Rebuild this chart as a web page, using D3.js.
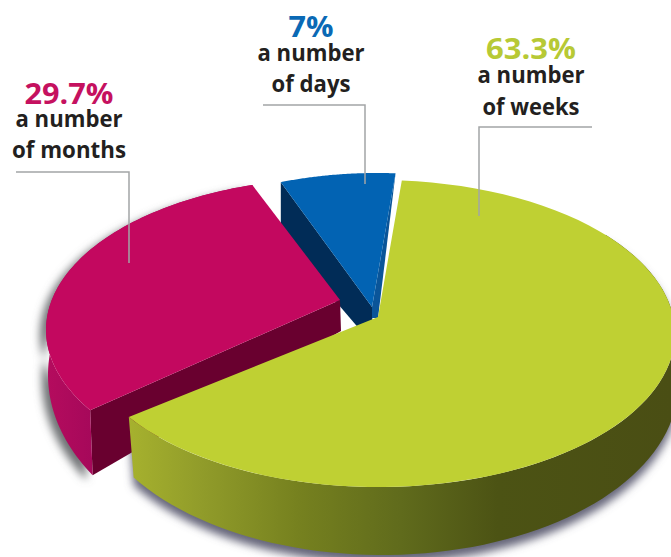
<!DOCTYPE html>
<html>
<head>
<meta charset="utf-8">
<script src="https://cdn.jsdelivr.net/npm/d3@7"></script>
<style>
    html, body { margin: 0; padding: 0; background: #fff; }
    svg { display: block; }
    text { font-family: "Open Sans", "Noto Sans", sans-serif; text-anchor: middle; }
</style>
</head>
<body>
<svg id="chart" width="671" height="557"></svg>
<script>
const categories = ['weeks', 'months', 'days'];
const shares = [63.3, 29.7, 7];
const percentLabels = ['63.3%', '29.7%', '7%'];
const firstLines = ['a number', 'a number', 'a number'];
const secondLines = ['of weeks', 'of months', 'of days'];

const deg = Math.PI / 180;

// each slice is exploded and seen in perspective, so it has its own ellipses
// twist/stretch nudge the true pie angles to the foreshortened ones in the picture
const layout = {
    weeks: {
        twist: 0.6,
        stretch: 1.02,
        top: { cx: 378, cy: 333.5, rx: 297, ry: 153.5 },
        floor: { cx: 382, cy: 385, rx: 296, ry: 170 },
        apex: [378, 317],
        fill: '#bfd033',
        text: { color: '#b7c935', x: 531, y: [59, 83, 115], w: [90, 107, 97] },
        leader: [[592, 127], [479, 127], [479, 216]]
    },
    months: {
        twist: 6.3,
        stretch: 0.977,
        top: { cx: 340, cy: 330, rx: 294, ry: 152 },
        floor: { cx: 345, cy: 375, rx: 297, ry: 190 },
        apex: [340, 300],
        apexFloor: [341, 331],
        fill: '#c3085f',
        text: { color: '#c5115f', x: 69, y: [104, 127, 158], w: [89, 107, 114] },
        leader: [[16, 172], [129, 172], [129, 263]]
    },
    days: {
        twist: 0,
        stretch: 1,
        top: { cx: 377, cy: 308, rx: 266, ry: 135 },
        floor: { cx: 377, cy: 363, rx: 266, ry: 135 },
        apex: [372, 307],
        apexFloor: [373, 345],
        fill: '#0263b3',
        text: { color: '#0a69b5', x: 311, y: [37, 61, 92], w: [45, 107, 79] },
        leader: [[263, 105], [365, 105], [365, 184]]
    }
};

const svg = d3.select('#chart');
const defs = svg.append('defs');

const blur = defs.append('filter').attr('id', 'soft')
    .attr('filterUnits', 'userSpaceOnUse')
    .attr('x', 0).attr('y', 0).attr('width', 671).attr('height', 557);
blur.append('feGaussianBlur').attr('in', 'SourceGraphic').attr('stdDeviation', 4);

const addGradient = (id, x1, x2, stops) => {
    const g = defs.append('linearGradient').attr('id', id)
        .attr('gradientUnits', 'userSpaceOnUse')
        .attr('x1', x1).attr('x2', x2).attr('y1', 0).attr('y2', 0);
    stops.forEach(s => g.append('stop').attr('offset', s[0]).attr('stop-color', s[1]));
};
addGradient('weeksWall', 130, 671, [[0, '#a6b12e'], [0.13, '#919c2a'], [0.31, '#76811f'], [0.5, '#606b1c'], [0.68, '#4c5314'], [1, '#4a4e14']]);
addGradient('monthsWall', 45, 95, [[0, '#b50c5e'], [1, '#a5085a']]);

const pie = d3.pie().sort(null).startAngle(4 * deg).endAngle(364 * deg);
const slices = pie(shares);

const rimPoint = (e, a) => [e.cx + e.rx * Math.sin(a), e.cy - e.ry * Math.cos(a)];

const rim = (e, a0, a1) => {
    const t = d3.scaleLinear().domain([0, 80]).range([a0, a1]);
    return d3.range(81).map(i => rimPoint(e, t(i)));
};

const line = d3.line();
const closed = pts => line(pts) + 'Z';

const angles = i => {
    const l = layout[categories[i]];
    const a0 = slices[i].startAngle + l.twist * deg;
    return [a0, a0 + (slices[i].endAngle - slices[i].startAngle) * l.stretch];
};

// outer wall = top rim going one way, floor rim coming back
const outerWall = (l, a0, a1) => closed(rim(l.top, a0, a1).concat(rim(l.floor, a1, a0)));
const face = (l, a0, a1) => closed([l.apex].concat(rim(l.top, a0, a1)));

const shadows = svg.append('g');
const marks = svg.append('g');

// days goes first, months and weeks cover its lower parts
const drawDays = () => {
    const l = layout.days;
    const [a0, a1] = angles(2);
    marks.append('path')
        .attr('d', closed([rimPoint(l.top, a0), l.apex, l.apexFloor, rimPoint(l.floor, a0)]))
        .attr('fill', '#012c57');
    marks.append('path')
        .attr('d', closed([rimPoint(l.top, a1), l.apex, [372, 318], [378, 318]]))
        .attr('fill', '#0a5599');
    marks.append('path').attr('d', face(l, a0, a1)).attr('fill', l.fill);
};

const drawMonths = () => {
    const l = layout.months;
    const [a0, a1] = angles(1);
    shadows.append('path')
        .attr('d', outerWall(l, a0, a1))
        .attr('transform', 'translate(-6,5)')
        .attr('filter', 'url(#soft)')
        .attr('fill', '#6f7275');
    marks.append('path')
        .attr('d', closed([rimPoint(l.top, a0), l.apex, l.apexFloor, rimPoint(l.floor, a0)]))
        .attr('fill', '#69002f');
    marks.append('path').attr('d', outerWall(l, a0, a1)).attr('fill', 'url(#monthsWall)');
    marks.append('path').attr('d', face(l, a0, a1)).attr('fill', l.fill);
};

const drawWeeks = () => {
    const l = layout.weeks;
    const [a0, a1] = angles(0);
    shadows.append('path')
        .attr('d', outerWall(l, 50 * deg, a1))
        .attr('transform', 'translate(0,8)')
        .attr('filter', 'url(#soft)')
        .attr('fill', '#66667a');
    marks.append('path').attr('d', outerWall(l, 50 * deg, a1)).attr('fill', 'url(#weeksWall)');
    marks.append('path').attr('d', face(l, a0, a1)).attr('fill', l.fill);
};

drawDays();
drawMonths();
drawWeeks();

// leader lines and labels
categories.forEach((c, i) => {
    const l = layout[c];
    svg.append('path')
        .attr('d', line(l.leader))
        .attr('fill', 'none')
        .attr('stroke', '#a3a5a7')
        .attr('stroke-width', 1.5);

    const rows = [percentLabels[i], firstLines[i], secondLines[i]];
    rows.forEach((row, r) => {
        svg.append('text')
            .attr('x', l.text.x)
            .attr('y', l.text.y[r])
            .attr('font-size', r === 0 ? 29 : 23)
            .attr('font-weight', 700)
            .attr('fill', r === 0 ? l.text.color : '#231f20')
            .attr('textLength', l.text.w[r])
            .attr('lengthAdjust', 'spacingAndGlyphs')
            .text(row);
    });
});
</script>
</body>
</html>
